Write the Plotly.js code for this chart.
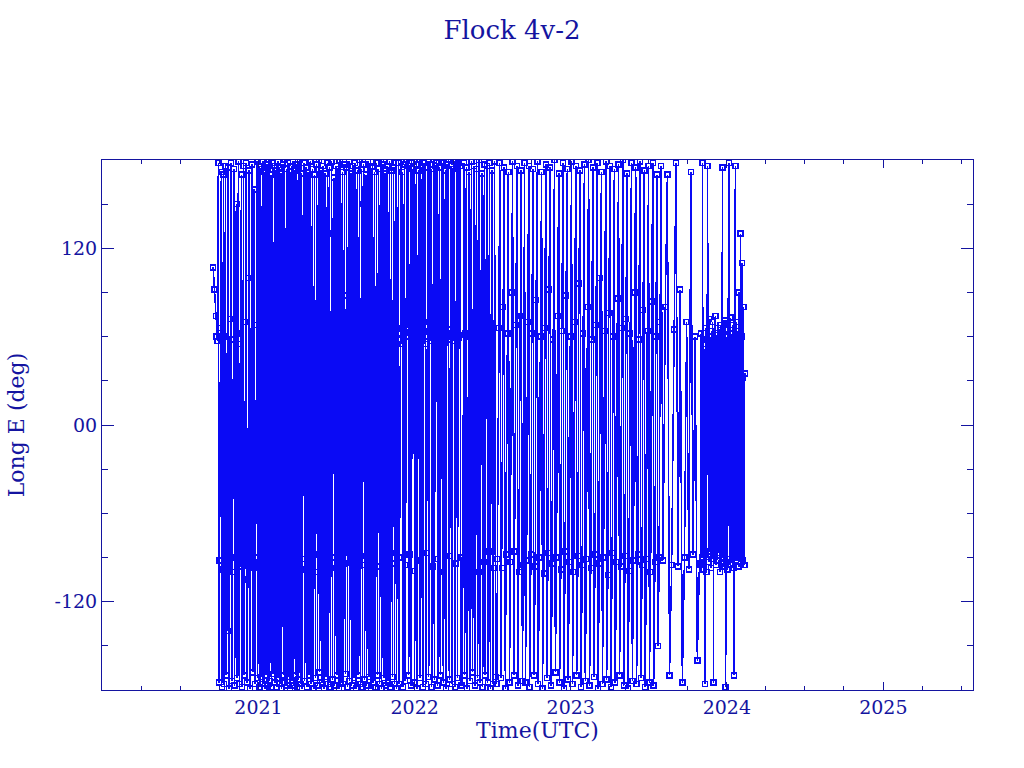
<!DOCTYPE html>
<html>
<head>
<meta charset="utf-8">
<script src="https://cdn.plot.ly/plotly-3.0.1.min.js"></script>
<style>
html,body{margin:0;padding:0;background:#fff;}
#chart{width:1024px;height:768px;}
#chart .js-line, #chart .point{shape-rendering:crispEdges;}
</style>
</head>
<body>
<div id="chart"></div>
<script>
// ---- data: time as days since 2020-01-01, east longitude in degrees ----
const dayA = [260,263,266,268,270,272,274,275,277,279,280,282,284,285,287,289,290,292,294,295,297,299,300,302,304,305,307,309,310,312,314,316,317,319,321,322,324,326,327,329,331,332,334,336,337,339,341,343,344,346,348,349,351,353,354,356,358,359,361,363,364,366];
const lonA = [107,92,74,60,57,178,-175,-92,66,172,-178,-98,170,-176,60,176,-170,-95,-140,175,-179,-88,72,178,-174,-100,58,174,-177,-90,150,-172,62,179,-176,-96,55,170,-178,-60,176,-170,-92,70,178,-175,-105,100,173,-179,-88,64,177,-168,-97,160,-176,-90,68,179,-172,-94];

const dayC = [367,368,370,371,372,374,375,376,378,379,380,382,383,384,386,387,388,390,391,392,394,395,396,398,399,400,402,403,404,406,407,408,410,411,412,414,415,416,418,419,420,422,423,424,426,427,428,430,431,432,434,435,436,438,439,440,442,443,444,446,447,448,450,451,452,454,455,456,458,459,460,462,463,464,466,467,468,470];
const lonC = [176,-178,-93,174,-171,66,179,-176,-88,172,-179,-99,177,-170,60,175,-177,-95,180,-174,-86,170,-178,72,178,-169,-101,176,-175,-91,173,-178,64,179,-172,-97,175,-176,-89,171,-179,58,177,-170,-94,180,-175,-103,174,-177,70,178,-171,-90,172,-179,-96,176,-174,62,179,-177,-87,173,-170,-100,177,-178,68,175,-173,-92,180,-176,-98,171,-179,60];

const dayD = [472,474,475,477,479,480,482,484,485,487,489,490,492,494,495,497,499,500,502,504,505,507,509,510,512,514,515,517,519,520,522,524,525,527,529,530,532,534,535,537,539,540,542,544,545,547,549,550,552,554,555,557,559,560,562,564,565,567,569,570,572,574,575,577,579,580,582,584,585,587,589,590,592,594,595,597,599,600,602,604,605,607,609,610,612,614,615,617,619,620,622,624,625,627,629,630,632,634,635,637,639,640,642,644,645,647,649,650,652,654,655,657,659,660,662,664,665,667,669,670,672,674,675,677,679,680,682,684,685,687,689,690];
const lonD = [178,-174,-91,175,-178,66,172,-170,-96,179,-176,72,174,-179,-88,170,-172,58,177,-177,-100,180,-168,80,173,-175,-93,176,-179,62,171,-171,-87,178,-176,130,175,-178,-97,179,-173,64,168,-177,-90,176,-170,70,174,-179,-102,180,-175,56,172,-176,-94,177,-169,88,175,-178,-86,179,-174,60,171,-177,-98,176,-172,74,178,-179,-92,173,-170,66,180,-176,-89,174,-178,150,177,-173,-95,170,-177,62,179,-171,-101,175,-179,68,176,-175,-88,172,-178,58,178,-170,-96,174,-176,84,180,-179,-91,177,-172,64,171,-177,-99,176,-174,70,179,-178,-87,173,-171,60,175,-176,-94,178,-179,66];

const dayE = [692,693,695,696,698,699,701,702,704,705,707,708,710,711,713,714,716,717,719,720,722,723,725,726,728,729,731,732,734,735,737,738,740,741,743,744,746,747,749,750,752,753,755,756,758,759,761,762,764,765,767,768,770,771,773,774,776,777,779,780,782,783,785,786,788,789,791,792,794,795,797,798,800,801,803,804,806,807,809,810,812,813,815,816,818,819,821,822,824,825,827,828,830,831,833,834,836,837,839,840];
const lonE = [58,178,-176,-90,62,179,55,172,-178,70,177,-174,-95,60,180,66,176,-170,-88,63,178,-177,68,174,56,179,-175,-99,61,177,-179,59,173,65,180,-172,-92,62,176,-178,70,178,55,175,-176,-87,60,179,-171,64,177,57,174,-178,-96,61,180,-173,66,176,59,178,-177,-91,63,175,-170,60,179,67,178,-175,-100,56,173,-179,62,177,58,180,-173,-89,65,176,-176,60,174,57,179,-178,-94,64,177,-172,59,178,61,176,-177,-90];

const dayF = [842,844,846,848,850,852,854,856,858,860,862,864,866,868,870,872,874,876,878,880,882,884,886,888,890,892,894,896,898,900,902,904,906,908,910,912,914,916,918,920];
const lonF = [-177,-92,178,-170,62,175,-179,-95,172,-174,60,179,-168,-88,176,-177,85,174,-172,-100,180,-175,58,171,-178,-93,177,-170,92,176,-175,-86,178,-179,64,173,-176,-97,179,-171];

const dayG = [923,925,928,930,933,935,938,940,943,945,948,950,953,955,958,960,963,965,968,970,973,975,978,980,983,985,988,990,993,995,998,1000,1003,1005,1008,1010,1013,1015,1018,1020,1023,1025,1028,1030,1033,1035,1038,1040,1043,1045,1048,1050,1053,1055,1058,1060,1063,1065,1068,1070,1073,1075,1078,1080,1083,1085,1088,1090,1093,1095,1098,1100,1103,1105,1108,1110,1113,1115,1118,1120,1123,1125,1128,1130,1133,1135,1138,1140,1143,1145,1148,1150,1153,1155,1158,1160,1163,1165,1168,1170,1173,1175,1178,1180,1183,1185,1188,1190,1193,1195,1198,1200,1203,1205,1208,1210,1213,1215,1218,1220,1223,1225,1228,1230,1233,1235,1238,1240,1243,1245,1248,1250,1253,1255,1258,1260,1263,1265,1268,1270,1273,1275,1278,1280,1283,1285,1288,1290,1293,1295,1298,1300,1303,1305];
const lonG = [-176,-91,66,178,-172,-97,80,175,-179,-88,62,172,-175,-93,90,179,-170,-86,68,176,-177,-100,74,173,-174,-95,178,-175,-92,70,176,-178,-88,62,174,-170,-96,85,179,-176,-90,60,172,-179,-101,66,177,-172,-87,92,175,-177,-94,58,180,-168,-90,74,171,-175,-98,64,178,-179,-86,88,174,-173,-93,60,179,-176,-100,70,176,-170,-89,96,173,-178,-95,62,177,-174,-91,80,180,-177,-97,58,175,-171,-88,68,178,-179,-94,100,172,-176,-90,64,179,-173,-102,76,176,-178,-87,60,174,-175,-93,86,177,-170,-96,66,180,-177,-89,72,171,-179,-99,62,178,-174,-92,90,175,-176,-88,58,179,-172,-95,78,173,-178,-91,64,176,-175,-100,84,178,-177,-93,60,170,-150,-90,70];

const dayH = [1307,1312,1317,1322,1327,1332,1337,1342,1347,1352,1357,1362,1367,1372,1377,1382,1387,1392,1397];
const lonH = [176,-92,80,170,-170,-95,65,178,-96,92,-175,-90,70,-98,172,-88,60,-160,-94];

const dayI = [1400,1401,1403,1404,1406,1407,1409,1410,1412,1413,1415,1416,1418,1419,1421,1422,1424,1425,1427,1428,1430,1431,1433,1434,1436,1437,1439,1440,1442,1443,1445,1446,1448,1449,1451,1452,1454,1455,1457,1458,1460,1461,1463,1464,1466,1467,1469,1470,1472,1473,1475,1476,1478,1479,1481,1482,1484,1485,1487,1488,1490,1491,1493,1494,1496,1497,1499,1500,1502,1503];
const lonI = [-95,62,-90,178,-98,55,-88,-176,66,-100,58,176,-93,72,-86,60,-97,64,-91,70,-175,57,-89,74,-95,61,-92,66,-87,59,-100,68,-94,63,175,-90,69,-96,71,-178,-93,60,-98,65,178,-91,73,-95,62,-89,68,-97,-170,56,176,-92,70,-90,64,-96,90,-88,130,-94,60,110,-92,80,-95,35];

// axis ticks (year boundaries in days since 2020-01-01)
const xTickVals = [366, 731, 1096, 1461, 1827];
const xTickText = ['2021', '2022', '2023', '2024', '2025'];
const yTickVals = [-120, 0, 120];
const yTickText = ['-120', '00', '120'];

const dayAll = [].concat(dayA, dayC, dayD, dayE, dayF, dayG, dayH, dayI);
const lonAll = [].concat(lonA, lonC, lonD, lonE, lonF, lonG, lonH, lonI);

const axisColor = 'rgb(20,20,160)';
const dataColor = 'rgb(10,10,245)';
const fontFam = '"DejaVu Serif", "Liberation Serif", serif';

const trace = {
  x: dayAll, y: lonAll, type: 'scatter', mode: 'lines+markers',
  line: {color: dataColor, width: 1.5},
  marker: {symbol: 'square-open', size: 5, color: dataColor, line: {color: dataColor, width: 1.5}},
  hoverinfo: 'skip'
};

const layout = {
  width: 1024, height: 768,
  margin: {l: 102, r: 51, t: 160, b: 78},
  paper_bgcolor: '#fff', plot_bgcolor: '#fff',
  showlegend: false,
  font: {family: fontFam, color: axisColor, size: 19},
  title: {text: 'Flock 4v-2', font: {family: fontFam, size: 26, color: axisColor},
          x: 0.5, xref: 'container', xanchor: 'center', y: 0.961, yref: 'container', yanchor: 'middle'},
  xaxis: {
    range: [0, 2036.6], showgrid: false, zeroline: false,
    showline: true, linecolor: axisColor, linewidth: 1, mirror: 'ticks',
    tickmode: 'array', tickvals: xTickVals, ticktext: xTickText,
    ticks: 'inside', ticklen: 8, tickwidth: 1, tickcolor: axisColor,
    tickfont: {family: fontFam, size: 19, color: axisColor},
    minor: {tickmode: 'linear', tick0: 0, dtick: 91.3125, ticks: 'inside', ticklen: 4, tickwidth: 1, tickcolor: axisColor, showgrid: false},
    title: {text: 'Time(UTC)', font: {family: fontFam, size: 22, color: axisColor}, standoff: 5}
  },
  yaxis: {
    range: [-180, 180], showgrid: false, zeroline: false,
    showline: true, linecolor: axisColor, linewidth: 1, mirror: 'ticks',
    tickmode: 'array', tickvals: yTickVals, ticktext: yTickText,
    ticks: 'inside', ticklen: 12, tickwidth: 1, tickcolor: axisColor,
    tickfont: {family: fontFam, size: 19, color: axisColor},
    minor: {tickmode: 'linear', tick0: 0, dtick: 30, ticks: 'inside', ticklen: 6, tickwidth: 1, tickcolor: axisColor, showgrid: false},
    title: {text: 'Long E (deg)', font: {family: fontFam, size: 22, color: axisColor}, standoff: 23}
  }
};

Plotly.newPlot('chart', [trace], layout, {staticPlot: true, displayModeBar: false});
</script>
</body>
</html>
